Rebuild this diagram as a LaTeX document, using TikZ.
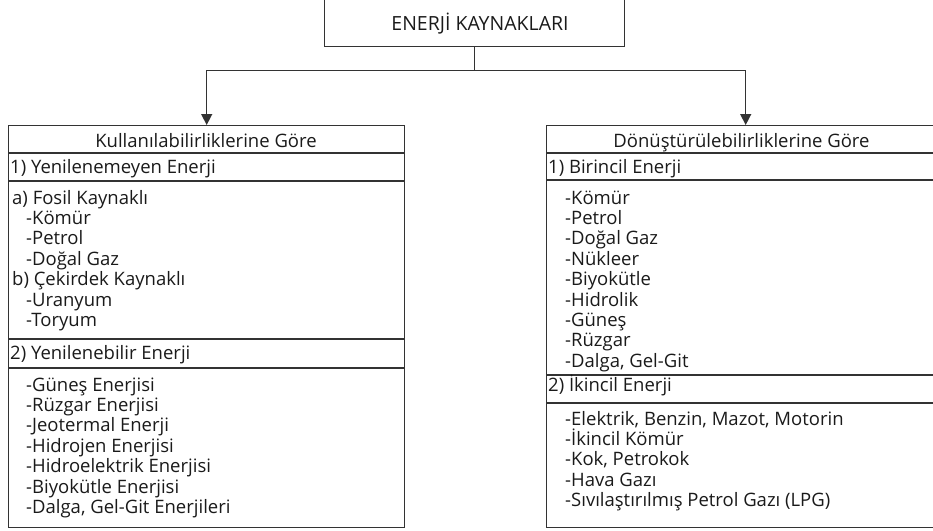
\documentclass[tikz,border=0pt]{standalone}
\usepackage{fontspec}
\setmainfont{Open Sans}
\usetikzlibrary{arrows.meta}
\definecolor{ink}{HTML}{1A1A1A}
\definecolor{rule}{HTML}{333333}
\begin{document}
\begin{tikzpicture}[x=1pt,y=-1pt,
  txt/.style={inner sep=0pt,text=ink,font=\fontsize{18.5}{20}\selectfont},
  item/.style={txt,anchor=base west},
  head/.style={txt,anchor=base},
  frame/.style={draw=rule,line width=1.4pt,inner sep=0pt,anchor=north west},
  sep/.style={draw=rule,line width=1.4pt},
  conn/.style={draw=rule,line width=1.4pt},
  arr/.style={conn,-{Triangle[width=11pt,length=11pt]}}]
\useasboundingbox (0,0) rectangle (933,530);
\clip (0,0) rectangle (933,530);
% top box
\node[frame,minimum width=300pt,minimum height=49pt] (top) at (324,-3.5) {};
\node[head,font=\fontsize{19.5}{20}\selectfont] (ttl) at (480,30.7) {ENERJİ KAYNAKLARI};
% boxes
\node[frame,minimum width=396pt,minimum height=402pt] (lbox) at (8,125) {};
\node[frame,minimum width=391pt,minimum height=402pt] (rbox) at (546,125) {};
% connectors
\coordinate (j) at (top.south |- 0,70.7);
\draw[conn] (top.south) -- (j);
\draw[arr] (j) -| (lbox.north);
\draw[arr] (j) -| ([xshift=3.5pt]rbox.north);
% separators
\foreach \yy in {153,181,339,368}
  \draw[sep] (lbox.west |- 0,\yy) -- (lbox.east |- 0,\yy);
\foreach \yy in {153,180,375,403}
  \draw[sep] (rbox.west |- 0,\yy) -- (rbox.east |- 0,\yy);
% left texts
\node[head] (lh) at (206,147.3) {Kullanılabilirliklerine Göre};
\node[item] (l1) at (10,173.3) {1) Yenilenemeyen Enerji};
\node[item] (la) at (12,204) {a) Fosil Kaynaklı};
\foreach \t [count=\i] in {-Kömür,-Petrol,-Doğal Gaz}
  \node[item] (la\i) at (26,204+20.4*\i) {\t};
\node[item] (lb) at (12,285.6) {b) Çekirdek Kaynaklı};
\foreach \t [count=\i] in {-Uranyum,-Toryum}
  \node[item] (lb\i) at (26,285.6+20.4*\i) {\t};
\node[item] (l2) at (10,359.3) {2) Yenilenebilir Enerji};
\foreach \t [count=\i from 0] in {-Güneş Enerjisi,-Rüzgar Enerjisi,-Jeotermal Enerji,-Hidrojen Enerjisi,-Hidroelektrik Enerjisi,-Biyokütle Enerjisi,{-Dalga, Gel-Git Enerjileri}}
  \node[item] (lr\i) at (26,391+20.4*\i) {\t};
% right texts
\node[head] (rh) at (741.5,147.3) {Dönüştürülebilirliklerine Göre};
\node[item] (r1) at (548,173.3) {1) Birincil Enerji};
\foreach \t [count=\i from 0] in {-Kömür,-Petrol,-Doğal Gaz,-Nükleer,-Biyokütle,-Hidrolik,-Güneş,-Rüzgar,{-Dalga, Gel-Git}}
  \node[item] (rp\i) at (565,204+20.4*\i) {\t};
\node[item] (r2) at (548,391.7) {2) İkincil Enerji};
\foreach \t [count=\i from 0] in {{-Elektrik, Benzin, Mazot, Motorin},-İkincil Kömür,{-Kok, Petrokok},-Hava Gazı,-Sıvılaştırılmış Petrol Gazı (LPG)}
  \node[item] (rs\i) at (565,425+20.4*\i) {\t};
\end{tikzpicture}
\end{document}
